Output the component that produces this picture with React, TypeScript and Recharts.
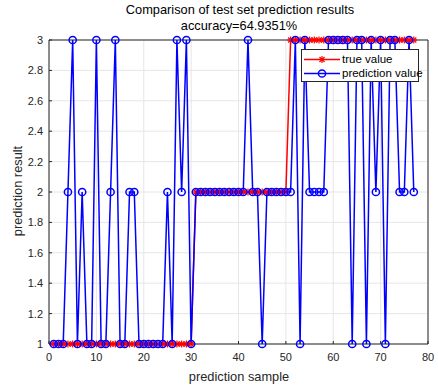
import React from 'react';
import { LineChart, Line, XAxis, YAxis, CartesianGrid, ReferenceLine } from 'recharts';

// Test set labels (true) and model output (prediction), samples 1..77
const trueValues = [
  1, 1, 1, 1, 1, 1, 1, 1, 1, 1,
  1, 1, 1, 1, 1, 1, 1, 1, 1, 1,
  1, 1, 1, 1, 1, 1, 1, 1, 1, 1,
  2, 2, 2, 2, 2, 2, 2, 2, 2, 2,
  2, 2, 2, 2, 2, 2, 2, 2, 2, 2,
  3, 3, 3, 3, 3, 3, 3, 3, 3, 3,
  3, 3, 3, 3, 3, 3, 3, 3, 3, 3,
  3, 3, 3, 3, 3, 3, 3,
];

const predValues = [
  1, 1, 1, 2, 3, 1, 2, 1, 1, 3,
  1, 1, 2, 3, 1, 1, 2, 2, 1, 1,
  1, 1, 1, 1, 2, 1, 3, 2, 3, 1,
  2, 2, 2, 2, 2, 2, 2, 2, 2, 2,
  2, 3, 2, 2, 1, 2, 2, 2, 2, 2,
  2, 3, 1, 3, 2, 2, 2, 2, 3, 3,
  3, 3, 3, 1, 3, 3, 1, 3, 2, 3,
  1, 3, 3, 2, 2, 3, 2,
];

const xTicks = [0, 10, 20, 30, 40, 50, 60, 70, 80];
const yTicks = [1, 1.2, 1.4, 1.6, 1.8, 2, 2.2, 2.4, 2.6, 2.8, 3];

const FONT = '"Liberation Sans", Arial, Helvetica, sans-serif';
const AXIS_COLOR = '#262626';
const RED = '#ff0000';
const BLUE = '#0000ff';

const data = trueValues.map((t, i) => ({ x: i + 1, truth: t, pred: predValues[i] }));

// asterisk marker like MATLAB '*'
const Star = (props: any) => {
  const { cx, cy } = props;
  if (cx == null || cy == null) return null;
  const s = 3.5;
  const d = s * 0.72;
  return (
    <g stroke={RED} strokeWidth={1.2}>
      <line x1={cx - s} y1={cy} x2={cx + s} y2={cy} />
      <line x1={cx} y1={cy - s} x2={cx} y2={cy + s} />
      <line x1={cx - d} y1={cy - d} x2={cx + d} y2={cy + d} />
      <line x1={cx - d} y1={cy + d} x2={cx + d} y2={cy - d} />
    </g>
  );
};

const tickStyle = { fill: AXIS_COLOR, fontSize: 11, fontFamily: FONT };

const labelBase: React.CSSProperties = {
  position: 'absolute',
  whiteSpace: 'nowrap',
  fontSize: 12.8,
  lineHeight: '14px',
};

export default function App() {
  return (
    <div style={{ position: 'absolute', left: 0, top: 0, width: 438, height: 385, background: '#fff', fontFamily: FONT }}>
      <LineChart width={438} height={385} data={data} margin={{ top: 40, right: 10, bottom: 11, left: 19 }}>
        <CartesianGrid stroke="#e6e6e6" />
        <XAxis
          dataKey="x"
          type="number"
          domain={[0, 80]}
          ticks={xTicks}
          height={30}
          tick={tickStyle}
          tickSize={-3}
          tickMargin={12}
          axisLine={{ stroke: AXIS_COLOR }}
          tickLine={{ stroke: AXIS_COLOR }}
        />
        <YAxis
          type="number"
          domain={[1, 3]}
          ticks={yTicks}
          width={30}
          tick={tickStyle}
          tickSize={-3}
          tickMargin={9}
          tickFormatter={(v: number) => String(Number(v.toFixed(1)))}
          axisLine={{ stroke: AXIS_COLOR }}
          tickLine={{ stroke: AXIS_COLOR }}
        />
        <ReferenceLine y={3} stroke={AXIS_COLOR} />
        <ReferenceLine x={80} stroke={AXIS_COLOR} />
        <Line
          type="linear"
          dataKey="truth"
          stroke={RED}
          strokeWidth={1.5}
          dot={<Star />}
          isAnimationActive={false}
        />
        <Line
          type="linear"
          dataKey="pred"
          stroke={BLUE}
          strokeWidth={1.5}
          dot={{ r: 3.6, fill: 'none', stroke: BLUE, strokeWidth: 1.5 }}
          isAnimationActive={false}
        />
      </LineChart>

      {/* titles and axis labels */}
      <div style={{ ...labelBase, left: 240, top: 3, transform: 'translateX(-50%)', color: '#000' }}>
        Comparison of test set prediction results
      </div>
      <div style={{ ...labelBase, left: 239, top: 18.5, transform: 'translateX(-50%)', color: '#000' }}>
        accuracy=64.9351%
      </div>
      <div style={{ ...labelBase, left: 239, top: 370, transform: 'translateX(-50%)', color: AXIS_COLOR }}>
        prediction sample
      </div>
      <div style={{ ...labelBase, left: 18, top: 190.5, transform: 'translate(-50%, -50%) rotate(-90deg)', color: AXIS_COLOR }}>
        prediction result
      </div>

      {/* legend */}
      <div style={{ position: 'absolute', left: 301, top: 49, width: 118, height: 33, boxSizing: 'border-box', border: `1px solid ${AXIS_COLOR}`, background: '#fff', fontSize: 11.5, color: '#000' }}>
        <svg width={40} height={33} style={{ position: 'absolute', left: 0, top: 0 }}>
          <line x1={2} y1={9.5} x2={38} y2={9.5} stroke={RED} strokeWidth={1.5} />
          <Star cx={20} cy={9.5} />
          <line x1={2} y1={23.5} x2={38} y2={23.5} stroke={BLUE} strokeWidth={1.5} />
          <circle cx={20} cy={23.5} r={3.6} fill="none" stroke={BLUE} strokeWidth={1.5} />
        </svg>
        <div style={{ position: 'absolute', left: 40, top: 2, lineHeight: '14px', whiteSpace: 'nowrap' }}>true value</div>
        <div style={{ position: 'absolute', left: 40, top: 16, lineHeight: '14px', whiteSpace: 'nowrap' }}>prediction value</div>
      </div>
    </div>
  );
}
